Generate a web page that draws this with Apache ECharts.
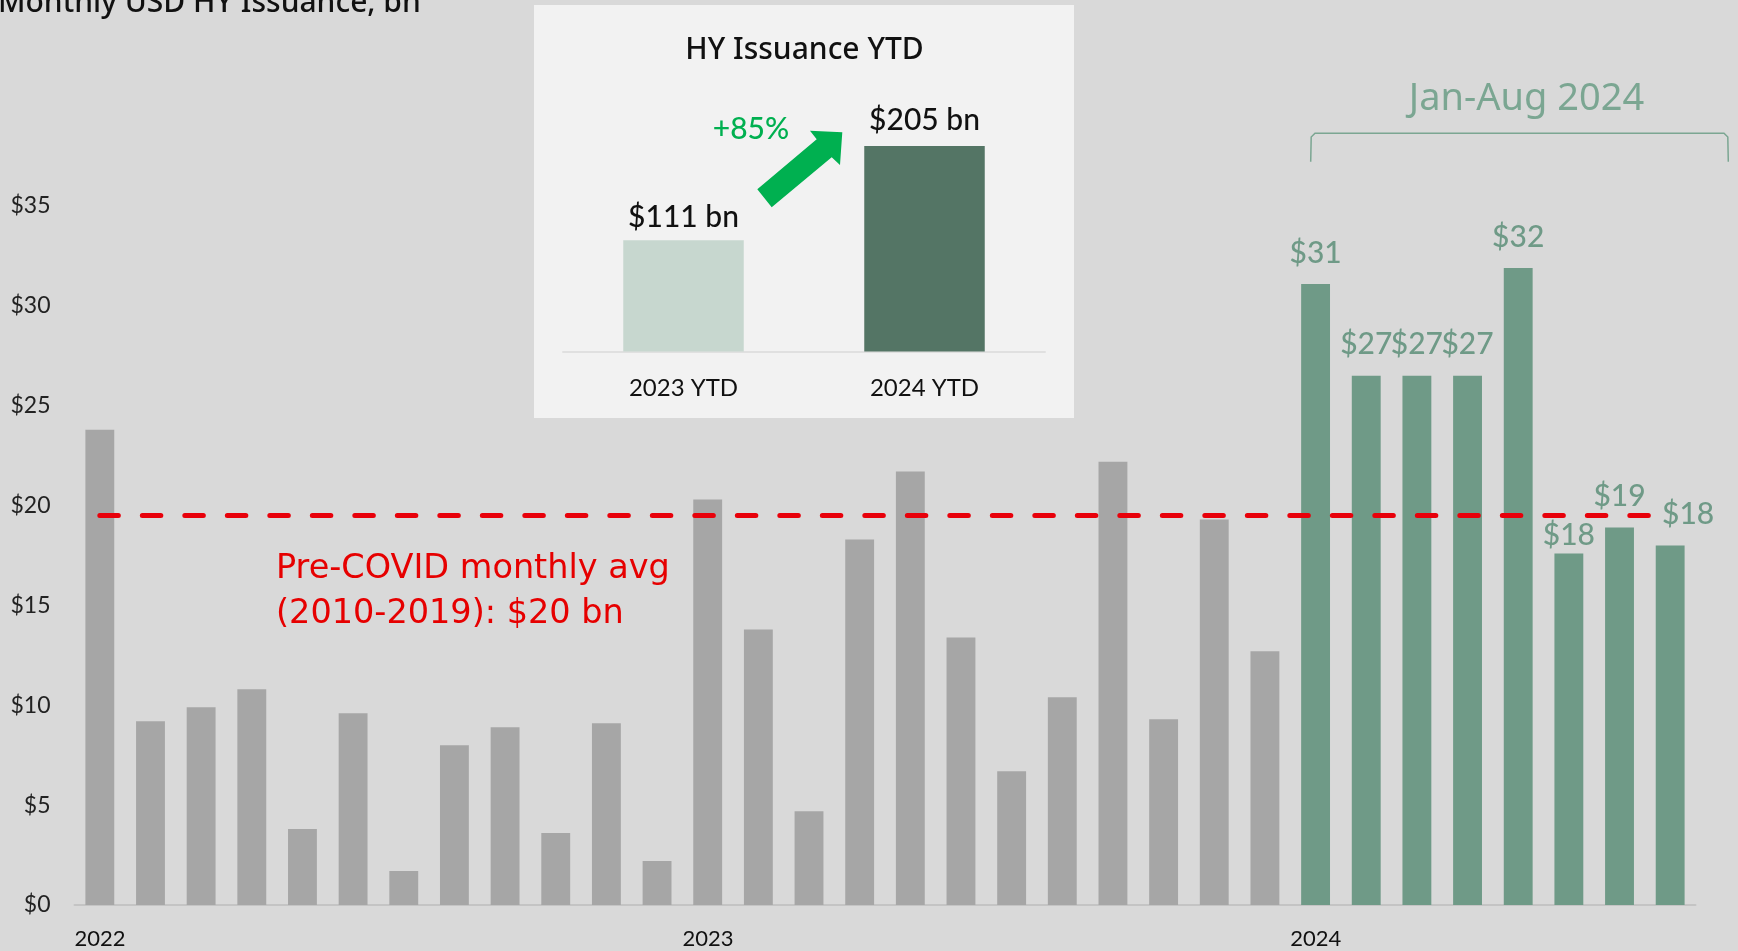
<!DOCTYPE html>
<html><head><meta charset="utf-8">
<script src="https://cdn.jsdelivr.net/npm/echarts@6/dist/echarts.min.js"></script>
<style>html,body{margin:0;padding:0;background:#d9d9d9;overflow:hidden}#c{width:1738px;height:951px;}</style>
</head><body><div id="c"></div>
<script>
// ---- data ----
const months = [
  'Jan 2022','Feb 2022','Mar 2022','Apr 2022','May 2022','Jun 2022','Jul 2022','Aug 2022','Sep 2022','Oct 2022','Nov 2022','Dec 2022',
  'Jan 2023','Feb 2023','Mar 2023','Apr 2023','May 2023','Jun 2023','Jul 2023','Aug 2023','Sep 2023','Oct 2023','Nov 2023','Dec 2023',
  'Jan 2024','Feb 2024','Mar 2024','Apr 2024','May 2024','Jun 2024','Jul 2024','Aug 2024'
];
const grayValues = [23.8, 9.2, 9.9, 10.8, 3.8, 9.6, 1.7, 8.0, 8.9, 3.6, 9.1, 2.2,
                    20.3, 13.8, 4.7, 18.3, 21.7, 13.4, 6.7, 10.4, 22.2, 9.3, 19.3, 12.7];
const greenValues = [31.1, 26.5, 26.5, 26.5, 31.9, 17.6, 18.9, 18.0];
const preCovidAvg = 19.5;
const yMax = 35, yStep = 5;
const ytdCategories = ['2023 YTD', '2024 YTD'];
const ytdValues = [111, 205];
const ytdChange = '+85%';

// ---- layout ----
const FONT = 'Lato';
const FONT2 = 'Noto Sans';
const FONT3 = 'DejaVu Sans';
const W = 1738;
const gridLeft = 74.5, gridRight = 42.5;
const bandW = (W - gridLeft - gridRight) / months.length;
const GREEN = '#6f9a87';

const grayData = grayValues.concat(greenValues.map(() => '-'));
const greenData = grayValues.map(() => '-').concat(greenValues.map((v, i) => {
  const item = { value: v };
  if (i === 5) item.label = { offset: [0, 13] };
  if (i === 7) item.label = { offset: [18, 0] };
  return item;
}));

// arrow polygon (annotation)
const arrowPts = [[757.3,189.3],[816.7,139.3],[810,130.7],[842.3,132.3],[840,165],[831.7,157.3],[771.7,207.3]];

const chart = echarts.init(document.getElementById('c'), null, { renderer: 'canvas' });
chart.setOption({
  backgroundColor: '#d9d9d9',
  animation: false,
  textStyle: { fontFamily: FONT },
  grid: [
    { left: gridLeft, right: gridRight, top: 206, bottom: 46 },
    { left: 563, width: 482, top: 146, height: 205.6 }
  ],
  xAxis: [
    {
      type: 'category', gridIndex: 0, data: months,
      axisLine: { lineStyle: { color: '#c4c4c4', width: 2 } },
      axisTick: { show: false },
      axisLabel: {
        interval: (i) => i % 12 === 0,
        margin: 23, color: '#111', fontSize: 22, fontFamily: FONT,
        align: 'center',
        formatter: (v) => '{a|' + v.split(' ')[1] + '}',
        rich: { a: { width: bandW, align: 'left', fontSize: 22, color: '#111', fontFamily: FONT } }
      }
    },
    {
      type: 'category', gridIndex: 1, data: ytdCategories,
      axisLine: { lineStyle: { color: '#e0e0e0', width: 2 } },
      axisTick: { show: false },
      axisLabel: { margin: 25, color: '#111', fontSize: 24, fontFamily: FONT }
    }
  ],
  yAxis: [
    {
      type: 'value', gridIndex: 0, min: 0, max: yMax, interval: yStep,
      splitLine: { show: false }, axisLine: { show: false }, axisTick: { show: false },
      axisLabel: { margin: 24, color: '#222', fontSize: 23, fontFamily: FONT, formatter: (v) => '$' + v }
    },
    {
      type: 'value', gridIndex: 1, min: 0, max: ytdValues[1], show: false
    }
  ],
  series: [
    {
      type: 'bar', xAxisIndex: 0, yAxisIndex: 0, data: grayData,
      barWidth: '57%', barGap: '-100%',
      itemStyle: { color: '#a6a6a6' }
    },
    {
      type: 'bar', xAxisIndex: 0, yAxisIndex: 0, data: greenData,
      barWidth: '57%', barGap: '-100%',
      itemStyle: { color: GREEN },
      label: {
        show: true, position: 'top', distance: 16,
        color: GREEN, fontSize: 30, fontFamily: FONT, fontWeight: 500,
        formatter: (p) => '$' + Math.round(p.value)
      },
      markLine: {
        silent: true, symbol: ['none', 'none'],
        label: { show: false },
        lineStyle: { color: '#e8000a', width: 5, type: [18.5, 24], cap: 'round' },
        data: [[{ coord: [0, preCovidAvg] }, { coord: [months.length - 1, preCovidAvg] }]],
        z: 10
      }
    },
    {
      type: 'bar', xAxisIndex: 1, yAxisIndex: 1, barWidth: '50%',
      data: ytdValues.map((v, i) => ({
        value: v,
        itemStyle: { color: i === 0 ? '#c7d7cf' : '#547565' },
        label: { distance: i === 0 ? 8 : 11 }
      })),
      label: {
        show: true, position: 'top',
        color: '#111', fontSize: 30, fontFamily: FONT, fontWeight: 500,
        formatter: (p) => '$' + p.value + ' bn'
      },
      z: 5
    }
  ],
  graphic: [
    { type: 'rect', shape: { x: 534, y: 5, width: 540, height: 413 }, style: { fill: '#f2f2f2' }, z: -10 },
    { type: 'text', left: -2, top: -12, style: { text: 'Monthly USD HY Issuance, bn', fontSize: 30, fontFamily: FONT2, fontWeight: 500, fill: '#111' } },
    { type: 'text', x: 804.5, y: 50, style: { text: 'HY Issuance YTD', fontSize: 30, fontFamily: FONT2, fontWeight: 500, fill: '#111', align: 'center', verticalAlign: 'middle' } },
    { type: 'text', x: 751, y: 129, style: { text: ytdChange, fontSize: 30, fontFamily: FONT, fontWeight: 500, fill: '#00b050', align: 'center', verticalAlign: 'middle' } },
    { type: 'polygon', shape: { points: arrowPts }, style: { fill: '#00b050' }, z: 5 },
    { type: 'text', x: 1526.5, y: 99.5, style: { text: 'Jan-Aug 2024', fontSize: 38, fontFamily: FONT2, fill: '#7ba692', align: 'center', verticalAlign: 'middle' } },
    { type: 'polyline', shape: { points: [[1310.7,161.7],[1311.2,137],[1315,133.3],[1724,133.3],[1727.8,137],[1728.3,161.7]] }, style: { stroke: '#7ba692', lineWidth: 1.5, fill: null } },
    { type: 'text', x: 276, y: 592, style: { text: 'Pre-COVID monthly avg\n(2010-2019): $20 bn', fontSize: 33.5, lineHeight: 45, fontFamily: FONT3, fill: '#e60000', align: 'left', verticalAlign: 'middle' } }
  ]
});
</script>
</body></html>
